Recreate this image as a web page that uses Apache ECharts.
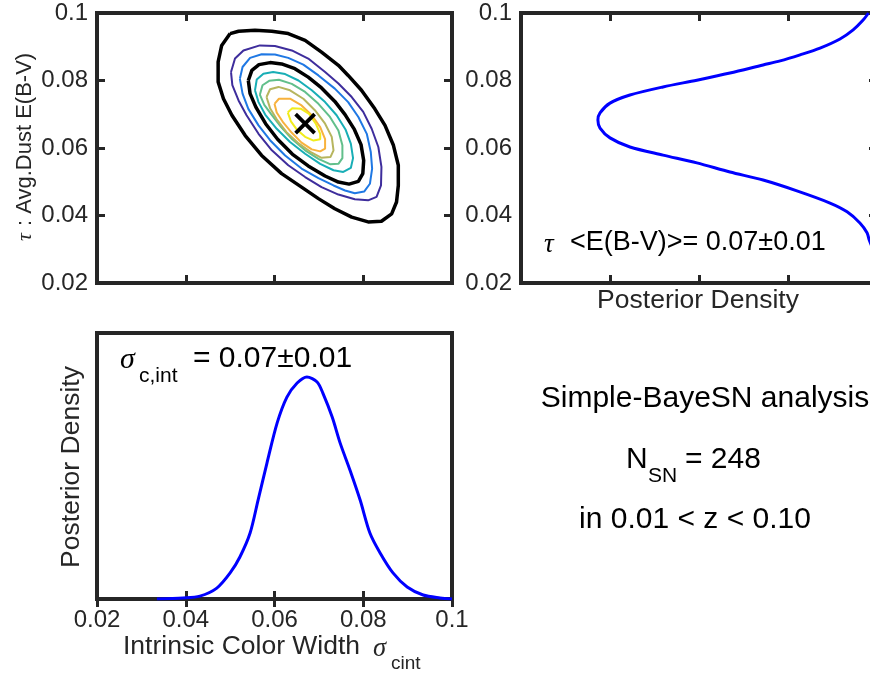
<!DOCTYPE html>
<html>
<head>
<meta charset="utf-8">
<title>Simple-BayeSN posterior</title>
<script src="https://cdn.jsdelivr.net/npm/echarts@6/dist/echarts.min.js"></script>
<style>
  html, body { margin: 0; padding: 0; background: #fff; }
  #chart { width: 870px; height: 677px; }
</style>
</head>
<body>
<div id="chart"></div>
<script>
// ---- joint posterior contours: [sigma_cint, tau] ----
const contourBlackOuter = [[0.0500,0.0939],[0.0519,0.0946],[0.0556,0.0949],[0.0594,0.0946],[0.0631,0.0939],[0.0669,0.0919],[0.0706,0.0884],[0.0744,0.0845],[0.0766,0.0815],[0.0796,0.0771],[0.0826,0.0716],[0.0849,0.0667],[0.0868,0.0608],[0.0879,0.0549],[0.0879,0.0489],[0.0875,0.0440],[0.0864,0.0405],[0.0841,0.0383],[0.0811,0.0381],[0.0774,0.0395],[0.0736,0.0420],[0.0699,0.0450],[0.0661,0.0484],[0.0616,0.0524],[0.0571,0.0578],[0.0534,0.0637],[0.0504,0.0697],[0.0485,0.0746],[0.0473,0.0796],[0.0473,0.0855],[0.0481,0.0904]];
const contourPurple = [[0.0502,0.0825],[0.0511,0.0865],[0.0530,0.0889],[0.0567,0.0904],[0.0601,0.0902],[0.0639,0.0889],[0.0676,0.0865],[0.0714,0.0825],[0.0744,0.0791],[0.0774,0.0751],[0.0800,0.0707],[0.0819,0.0657],[0.0834,0.0603],[0.0841,0.0544],[0.0840,0.0489],[0.0830,0.0455],[0.0811,0.0445],[0.0781,0.0448],[0.0744,0.0462],[0.0706,0.0484],[0.0669,0.0514],[0.0631,0.0549],[0.0594,0.0593],[0.0564,0.0642],[0.0537,0.0697],[0.0519,0.0741],[0.0505,0.0786]];
const contourBlue = [[0.0522,0.0805],[0.0528,0.0840],[0.0545,0.0867],[0.0571,0.0878],[0.0601,0.0877],[0.0631,0.0867],[0.0665,0.0847],[0.0699,0.0815],[0.0736,0.0776],[0.0766,0.0736],[0.0789,0.0692],[0.0808,0.0642],[0.0817,0.0588],[0.0820,0.0539],[0.0815,0.0494],[0.0802,0.0471],[0.0781,0.0466],[0.0759,0.0474],[0.0733,0.0489],[0.0699,0.0511],[0.0661,0.0539],[0.0624,0.0578],[0.0590,0.0623],[0.0564,0.0667],[0.0541,0.0716],[0.0528,0.0761]];
const contourBlackInner = [[0.0541,0.0800],[0.0549,0.0830],[0.0565,0.0847],[0.0590,0.0853],[0.0616,0.0849],[0.0646,0.0835],[0.0676,0.0810],[0.0706,0.0778],[0.0736,0.0738],[0.0759,0.0699],[0.0780,0.0655],[0.0795,0.0610],[0.0801,0.0563],[0.0799,0.0524],[0.0789,0.0501],[0.0768,0.0493],[0.0744,0.0499],[0.0714,0.0517],[0.0676,0.0547],[0.0640,0.0582],[0.0607,0.0626],[0.0580,0.0672],[0.0558,0.0721],[0.0545,0.0761]];
const contourTeal = [[0.0556,0.0771],[0.0560,0.0803],[0.0575,0.0820],[0.0597,0.0825],[0.0624,0.0819],[0.0654,0.0800],[0.0684,0.0771],[0.0714,0.0736],[0.0740,0.0697],[0.0760,0.0655],[0.0772,0.0613],[0.0777,0.0570],[0.0772,0.0541],[0.0755,0.0529],[0.0733,0.0534],[0.0703,0.0553],[0.0669,0.0583],[0.0635,0.0618],[0.0605,0.0657],[0.0579,0.0699],[0.0564,0.0736]];
const contourGreen = [[0.0567,0.0758],[0.0573,0.0786],[0.0588,0.0799],[0.0610,0.0802],[0.0639,0.0790],[0.0669,0.0766],[0.0699,0.0731],[0.0725,0.0692],[0.0744,0.0652],[0.0753,0.0608],[0.0753,0.0570],[0.0744,0.0553],[0.0725,0.0552],[0.0699,0.0568],[0.0669,0.0593],[0.0640,0.0626],[0.0615,0.0662],[0.0592,0.0701],[0.0577,0.0728]];
const contourOlive = [[0.0582,0.0751],[0.0590,0.0774],[0.0609,0.0781],[0.0635,0.0771],[0.0665,0.0746],[0.0691,0.0712],[0.0714,0.0672],[0.0729,0.0633],[0.0733,0.0593],[0.0726,0.0573],[0.0706,0.0571],[0.0684,0.0586],[0.0655,0.0613],[0.0627,0.0647],[0.0605,0.0685],[0.0590,0.0718]];
const contourOrange = [[0.0600,0.0731],[0.0610,0.0746],[0.0635,0.0746],[0.0661,0.0726],[0.0684,0.0697],[0.0703,0.0662],[0.0714,0.0626],[0.0714,0.0598],[0.0703,0.0590],[0.0684,0.0596],[0.0661,0.0616],[0.0639,0.0645],[0.0620,0.0675],[0.0605,0.0705]];
const contourYellow = [[0.0630,0.0705],[0.0640,0.0718],[0.0660,0.0716],[0.0678,0.0701],[0.0693,0.0672],[0.0703,0.0642],[0.0703,0.0626],[0.0688,0.0622],[0.0669,0.0633],[0.0650,0.0655],[0.0637,0.0679]];
const bestFit = [0.0669, 0.0672];

// ---- marginal posterior of tau (density drawn against tau) ----
const tauValues  = [0.1000, 0.0979, 0.0950, 0.0923, 0.0896, 0.0876, 0.0858, 0.0846, 0.0822, 0.0801, 0.0781, 0.0757, 0.0733, 0.0704, 0.0683, 0.0659, 0.0630, 0.0603, 0.0579, 0.0556, 0.0529, 0.0505, 0.0473, 0.0437, 0.0411, 0.0378, 0.0349, 0.0328, 0.0300, 0.0250, 0.0200];
const tauDensity = [0.024, 0.039, 0.067, 0.104, 0.160, 0.216, 0.272, 0.320, 0.413, 0.506, 0.601, 0.694, 0.750, 0.778, 0.784, 0.778, 0.750, 0.694, 0.601, 0.506, 0.413, 0.320, 0.225, 0.132, 0.084, 0.048, 0.028, 0.022, 0.012, 0.004, 0.001];

// ---- marginal posterior of sigma_cint ----
const sigmaValues  = [0.0335, 0.0394, 0.0432, 0.0470, 0.0500, 0.0522, 0.0545, 0.0563, 0.0583, 0.0606, 0.0628, 0.0651, 0.0673, 0.0696, 0.0709, 0.0730, 0.0748, 0.0770, 0.0793, 0.0815, 0.0838, 0.0867, 0.0899, 0.0935, 0.0973, 0.1000];
const sigmaDensity = [0.000, 0.004, 0.011, 0.041, 0.098, 0.158, 0.248, 0.372, 0.511, 0.662, 0.759, 0.812, 0.835, 0.816, 0.774, 0.684, 0.586, 0.485, 0.372, 0.248, 0.173, 0.098, 0.045, 0.015, 0.004, 0.000];

// ---- tick labels ----
const paramTicks = ['0.02', '0.04', '0.06', '0.08', '0.1'];

const FONT = '"Liberation Sans", Arial, Helvetica, sans-serif';
const SERIF = '"Liberation Serif", "DejaVu Serif", serif';
const AX = '#262626';

const tickStyle = { show: true, inside: true, length: 8, lineStyle: { color: AX, width: 3 } };
const tickLabelStyle = {
  show: true, fontSize: 24, color: AX, fontFamily: FONT, margin: 9,
  formatter: v => paramTicks[Math.round((v - 0.02) / 0.02)]
};

function paramAxis(gridIndex, position, labels) {
  return {
    type: 'value', gridIndex, position, min: 0.02, max: 0.1, interval: 0.02,
    axisLine: { show: false }, axisTick: tickStyle, splitLine: { show: false },
    axisLabel: labels ? tickLabelStyle : { show: false }
  };
}
function densityAxis(gridIndex, position, opts) {
  return Object.assign({
    type: 'value', gridIndex, position, min: 0, max: 1, interval: 0.25,
    axisLine: { show: false }, axisTick: tickStyle, splitLine: { show: false },
    axisLabel: { show: false }
  }, opts || {});
}

const frame = {
  show: true, borderColor: AX, borderWidth: 4, backgroundColor: 'transparent',
  containLabel: false, outerBoundsMode: 'none'
};

const contourLevels = [
  { pts: contourBlackOuter, color: '#000000', width: 3.5 },
  { pts: contourPurple,     color: '#3e2d9c', width: 2 },
  { pts: contourBlue,       color: '#1f78e4', width: 2 },
  { pts: contourBlackInner, color: '#000000', width: 3.5 },
  { pts: contourTeal,       color: '#18aeb6', width: 2 },
  { pts: contourGreen,      color: '#62bf8b', width: 2 },
  { pts: contourOlive,      color: '#b7b55e', width: 2 },
  { pts: contourOrange,     color: '#f8b23d', width: 2 },
  { pts: contourYellow,     color: '#f1ec1c', width: 2 }
];

const series = contourLevels.map((lv, i) => ({
  type: 'line', xAxisIndex: 0, yAxisIndex: 0,
  data: lv.pts.concat([lv.pts[0]]),
  symbol: 'none', smooth: false, silent: true, z: 2 + i,
  lineStyle: { color: lv.color, width: lv.width }
}));

// best-fit marker
series.push({
  type: 'scatter', xAxisIndex: 0, yAxisIndex: 0, data: [bestFit],
  symbol: 'path://M0,0L10,10M10,0L0,10', symbolSize: 19, z: 20, silent: true,
  itemStyle: { color: 'none', borderColor: '#000000', borderWidth: 3.8, opacity: 1 }
});

series.push({
  type: 'line', xAxisIndex: 2, yAxisIndex: 2,
  data: tauValues.map((v, i) => [tauDensity[i], v]),
  symbol: 'none', smooth: 0.3, silent: true, clip: true,
  lineStyle: { color: '#0000ff', width: 3 }
});

series.push({
  type: 'line', xAxisIndex: 4, yAxisIndex: 4,
  data: sigmaValues.map((v, i) => [v, sigmaDensity[i]]),
  symbol: 'none', smooth: 0.3, silent: true, clip: true,
  lineStyle: { color: '#0000ff', width: 3 }
});

function txt(x, y, text, size, o) {
  o = o || {};
  const align = o.align || 'left';
  return {
    type: 'text', x, y, rotation: o.rot || 0, silent: true, z: 100,
    style: {
      text, fontSize: size, fontFamily: o.ff || FONT,
      fontStyle: o.italic ? 'italic' : 'normal',
      fill: o.color || '#000',
      align, verticalAlign: 'middle',
      textAlign: align, textVerticalAlign: 'middle'
    }
  };
}

const graphics = [
  // axis titles
  txt(25, 237, 'τ', 22, { rot: Math.PI / 2, align: 'center', ff: SERIF, italic: true, color: AX }),
  txt(25, 226, ': Avg.Dust E(B-V)', 22, { rot: Math.PI / 2, color: AX }),
  txt(698, 301, 'Posterior Density', 26.5, { align: 'center', color: AX }),
  txt(72, 467, 'Posterior Density', 26.5, { rot: Math.PI / 2, align: 'center', color: AX }),
  txt(123, 647, 'Intrinsic Color Width', 26.5, { color: AX }),
  txt(373, 649, 'σ', 26.5, { ff: SERIF, italic: true, color: AX }),
  txt(391, 664, 'cint', 19, { color: AX }),

  // marginal summaries
  txt(544, 245, 'τ', 27, { ff: SERIF, italic: true }),
  txt(570, 243, '<E(B-V)>= 0.07±0.01', 27),
  txt(120, 360, 'σ', 30, { ff: SERIF, italic: true }),
  txt(139, 376, 'c,int', 21),
  txt(193, 359, '= 0.07±0.01', 30),

  // analysis description
  txt(705, 399, 'Simple-BayeSN analysis', 30, { align: 'center' }),
  txt(626, 460, 'N', 30),
  txt(648, 476, 'SN', 21),
  txt(685, 460, '= 248', 30),
  txt(695, 520, 'in 0.01 < z < 0.10', 30, { align: 'center' })
];

const option = {
  animation: false,
  backgroundColor: '#ffffff',
  textStyle: { fontFamily: FONT },
  grid: [
    Object.assign({ left: 97, top: 13, width: 355, height: 270 }, frame),
    Object.assign({ left: 521, top: 13, width: 356, height: 270 }, frame),
    Object.assign({ left: 97, top: 333, width: 355, height: 266 }, frame)
  ],
  xAxis: [
    paramAxis(0, 'bottom', false),
    paramAxis(0, 'top', false),
    densityAxis(1, 'bottom', { inverse: true }),
    densityAxis(1, 'top', { inverse: true }),
    paramAxis(2, 'bottom', true),
    paramAxis(2, 'top', false)
  ],
  yAxis: [
    paramAxis(0, 'left', true),
    paramAxis(0, 'right', false),
    paramAxis(1, 'left', true),
    paramAxis(1, 'right', false),
    densityAxis(2, 'left', { axisTick: { show: false } }),
    densityAxis(2, 'right', { axisTick: { show: false } })
  ],
  series,
  graphic: { elements: graphics }
};

const chart = echarts.init(document.getElementById('chart'), null, { renderer: 'canvas' });
chart.setOption(option);
</script>
</body>
</html>
